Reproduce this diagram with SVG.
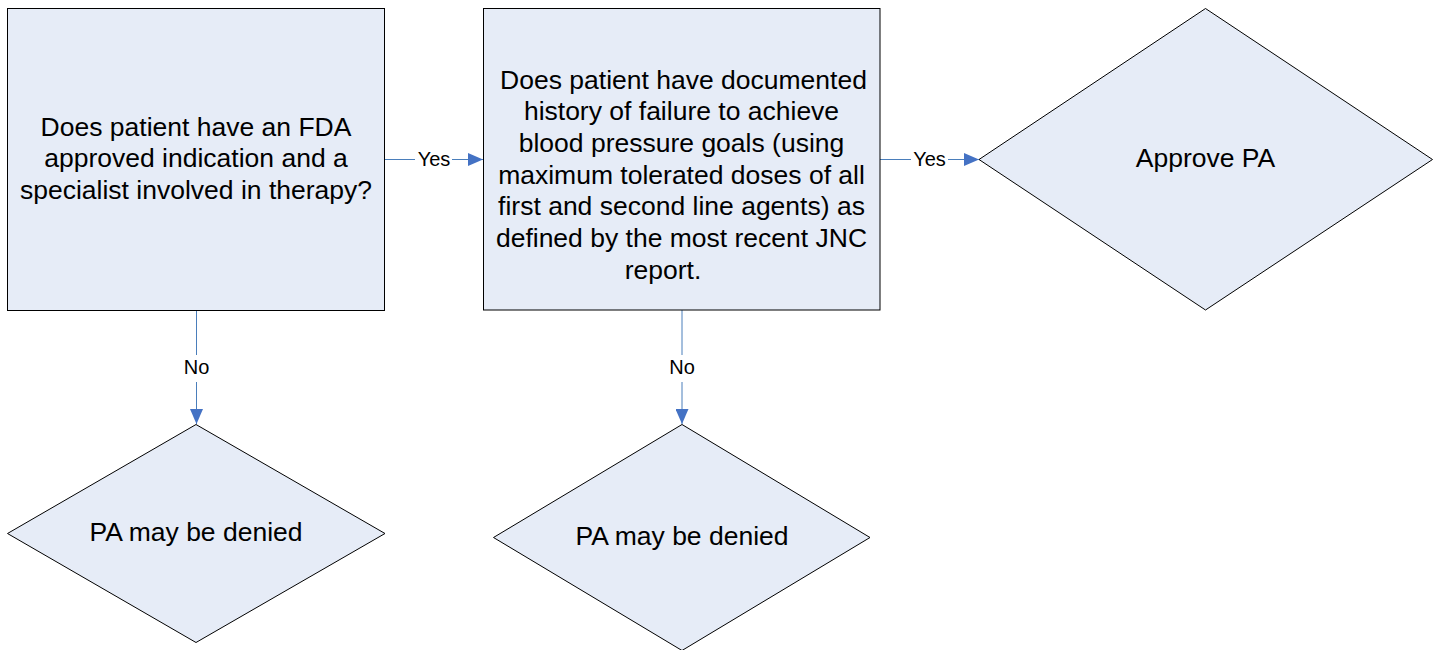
<svg xmlns="http://www.w3.org/2000/svg" width="1441" height="650" viewBox="0 0 1441 650">
<style>
.shape{fill:#E6ECF7;stroke:#000;stroke-width:1}
.t{font-family:"Liberation Sans",Arial,sans-serif;font-size:26.5px;fill:#000;text-anchor:middle}
.lbl{font-family:"Liberation Sans",Arial,sans-serif;font-size:20px;fill:#000;text-anchor:middle}
.conn{stroke:#4A7EBB;stroke-width:1;fill:none}
</style>
<defs>
<marker id="arr" markerWidth="15" markerHeight="13" refX="15" refY="6.5" orient="auto" markerUnits="userSpaceOnUse">
<path d="M0,0 L15,6.5 L0,13 Z" fill="#4472C4"/>
</marker>
</defs>
<rect width="1441" height="650" fill="#fff"/>
<g id="connectors">
<line class="conn" x1="385" y1="159.5" x2="483" y2="159.5" marker-end="url(#arr)"/>
<rect x="415" y="148" width="37" height="22" fill="#fff"/>
<text class="lbl" x="434" y="166">Yes</text>
<line class="conn" x1="880" y1="159.5" x2="979" y2="159.5" marker-end="url(#arr)"/>
<rect x="911" y="148" width="37" height="22" fill="#fff"/>
<text class="lbl" x="929.5" y="166">Yes</text>
<line class="conn" x1="196.5" y1="311" x2="196.5" y2="424" marker-end="url(#arr)"/>
<rect x="182" y="355" width="29" height="27" fill="#fff"/>
<text class="lbl" x="196.5" y="374">No</text>
<line class="conn" x1="682" y1="310" x2="682" y2="424" marker-end="url(#arr)"/>
<rect x="667" y="355" width="29" height="27" fill="#fff"/>
<text class="lbl" x="682" y="374">No</text>
</g>
<g id="q1">
<rect class="shape" x="7.5" y="8.5" width="377" height="302"/>
<text class="t" x="196" y="136">Does patient have an FDA</text>
<text class="t" x="196" y="167">approved indication and a</text>
<text class="t" x="196" y="198.5">specialist involved in therapy?</text>
</g>
<g id="q2">
<rect class="shape" x="483.5" y="8.5" width="396.5" height="301.5"/>
<text class="t" x="683.5" y="88.5">Does patient have documented</text>
<text class="t" x="681.5" y="120.2">history of failure to achieve</text>
<text class="t" x="681.5" y="151.8">blood pressure goals (using</text>
<text class="t" x="681.5" y="183.5">maximum tolerated doses of all</text>
<text class="t" x="681.5" y="215.2">first and second line agents) as</text>
<text class="t" x="681.5" y="246.8">defined by the most recent JNC</text>
<text class="t" x="663" y="278.5">report.</text>
</g>
<g id="approve">
<polygon class="shape" points="1205.5,8.5 1432.5,159.5 1205.5,310 979,159.5"/>
<text class="t" x="1205.5" y="167">Approve PA</text>
</g>
<g id="deny1">
<polygon class="shape" points="196,424.5 385,533.5 196,642.5 7.5,533.5"/>
<text class="t" x="196" y="541">PA may be denied</text>
</g>
<g id="deny2">
<polygon class="shape" points="682,424.5 870,537.5 682,650.5 493.5,537.5"/>
<text class="t" x="682" y="545">PA may be denied</text>
</g>
</svg>
